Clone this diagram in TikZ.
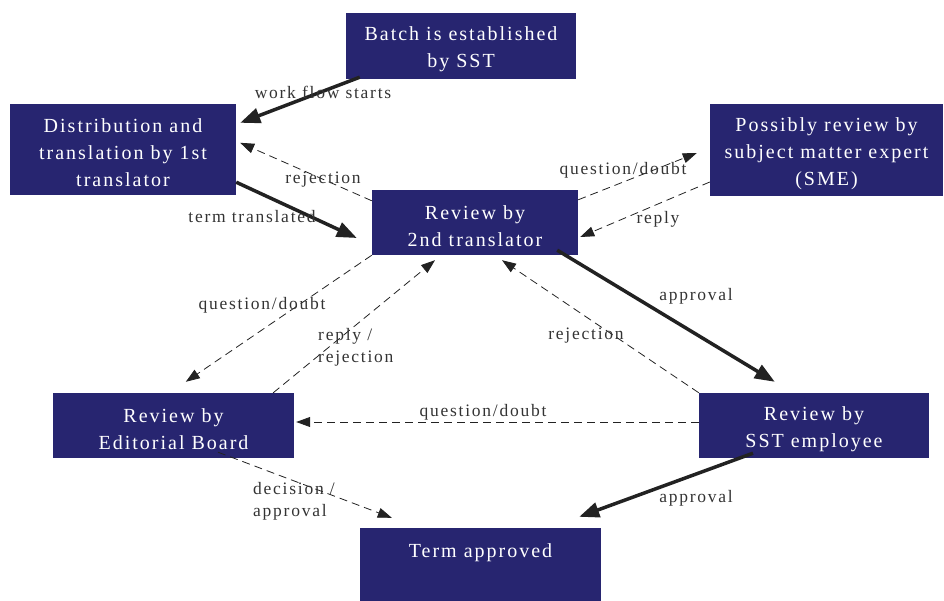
\documentclass[tikz,border=0pt]{standalone}
\usepackage{fontspec}
\setmainfont{Liberation Serif}[LetterSpace=10]
\usetikzlibrary{arrows.meta,calc}
\definecolor{boxblue}{HTML}{272570}
\definecolor{linegray}{HTML}{222222}
\definecolor{labelgray}{HTML}{333333}
\newcommand{\topstrut}{\rule{0pt}{21pt}}
\tikzset{
  stagebox/.style={fill=boxblue, draw=none, text=white, align=center, inner sep=0pt,
    font=\fontsize{20}{27}\selectfont},
  mainflow/.style={draw=linegray, line width=3.5pt, -{Triangle[length=20pt,width=15pt]}},
  sideflow/.style={draw=linegray, line width=0.8pt, dash pattern=on 8pt off 5pt, -{Triangle[length=14pt,width=10pt]}},
  flowlabel/.style={text=labelgray, font=\fontsize{17.5}{22}\selectfont, inner sep=0pt, anchor=base},
}
\begin{document}
\begin{tikzpicture}[x=1pt,y=-1pt]
\useasboundingbox (0,0) rectangle (944,601);
% boxes
\node[stagebox, minimum width=230pt, minimum height=66pt] (batch) at (461,46) {\topstrut Batch is established\\by SST};
\node[stagebox, minimum width=226pt, minimum height=91pt] (dist) at (123,149.5) {\topstrut Distribution and\\translation by 1st\\translator};
\node[stagebox, minimum width=233pt, minimum height=92pt] (sme) at (826.5,150) {\topstrut Possibly review by\\subject matter expert\\(SME)};
\node[stagebox, minimum width=206pt, minimum height=65pt] (rev) at (475,222.5) {\topstrut Review by\\2nd translator};
\node[stagebox, minimum width=241pt, minimum height=65pt] (edit) at (173.5,425.5) {\topstrut Review by\\Editorial Board};
\node[stagebox, minimum width=230pt, minimum height=65pt] (sst) at (814,425.5) {\topstrut Review by\\SST employee};
\node[stagebox, minimum width=241pt, minimum height=73pt] (term) at (480.5,564.5) {Term approved\\\mbox{}};
% connectors
\draw[mainflow] ([xshift=14pt,yshift=2pt]batch.south west) -- ([xshift=4pt,yshift=-19pt]dist.north east);
\draw[sideflow] ([yshift=-11pt]rev.north west) -- ([xshift=4pt,yshift=-39pt]dist.north east);
\draw[mainflow] ([yshift=13pt]dist.south east) -- ([xshift=-15pt,yshift=-15.5pt]rev.west);
\draw[sideflow] ([yshift=-10pt]rev.north east) -- ([xshift=-13pt,yshift=-3pt]sme.west);
\draw[sideflow] ([yshift=-32pt]sme.west) -- ([xshift=2pt,yshift=-14.5pt]rev.east);
\draw[mainflow] ([xshift=-21pt,yshift=5pt]rev.south east) -- ([xshift=76pt,yshift=11pt]sst.north west);
\draw[sideflow] (sst.north west) -- ([xshift=27pt,yshift=-5pt]rev.south);
\draw[sideflow] (rev.south west) -- ([xshift=133pt,yshift=11pt]edit.north west);
\draw[sideflow] ([xshift=-21pt]edit.north east) -- ([xshift=-40pt,yshift=-5pt]rev.south);
\draw[sideflow] ([yshift=3.5pt]sst.west) -- ([xshift=2pt,yshift=3.5pt]edit.east);
\draw[sideflow] ([xshift=44.5pt,yshift=6pt]edit.south) -- ([xshift=32pt,yshift=10pt]term.north west);
\draw[mainflow] ([xshift=-61pt,yshift=5pt]sst.south) -- ([xshift=-22pt,yshift=11pt]term.north east);
% labels
\node[flowlabel] (l1) at (323,99) {work flow starts};
\node[flowlabel] (l2) at (323,184) {rejection};
\node[flowlabel] (l3) at (252,223) {term translated};
\node[flowlabel] (l4) at (623,175) {question/doubt};
\node[flowlabel] (l5) at (658,224) {reply};
\node[flowlabel] (l6) at (696,301) {approval};
\node[flowlabel] (l7) at (586,339) {rejection};
\node[flowlabel] (l8) at (262,309) {question/doubt};
\node[flowlabel, anchor=base west, align=left] (l9) at (318,362) {reply /\\rejection};
\node[flowlabel] (l10) at (483,416) {question/doubt};
\node[flowlabel, anchor=base west, align=left] (l11) at (253,516) {decision /\\approval};
\node[flowlabel] (l12) at (696,502) {approval};
\end{tikzpicture}
\end{document}
